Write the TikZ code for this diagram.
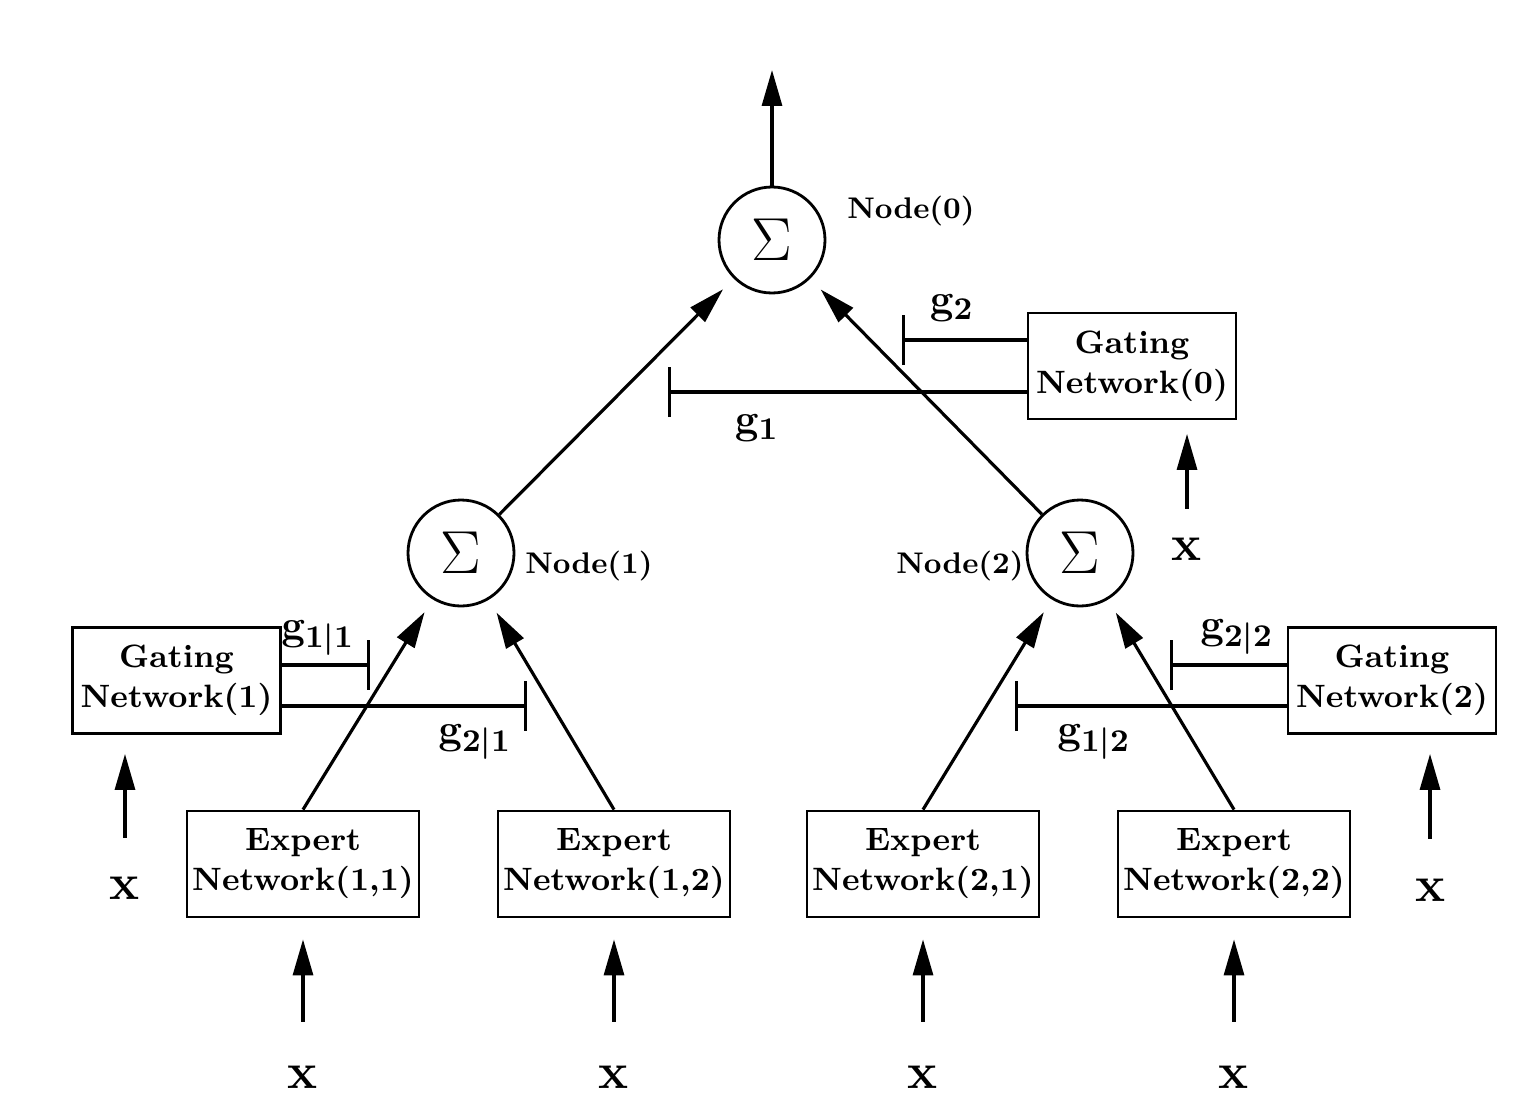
\documentclass[tikz,border=0pt]{standalone}
\usepackage{amsmath,amssymb}
\usetikzlibrary{arrows.meta,positioning}
\tikzset{
  flow/.style={-{Triangle[length=3.6mm,width=2mm]}, line width=0.9pt},
  gate/.style={-{Bar[width=5mm]}, line width=0.9pt},
  sumn/.style={draw, circle, line width=0.8pt, minimum size=1.06cm, inner sep=0pt,
               font=\fontsize{17}{19}\selectfont},
  netbox/.style={draw, line width=0.8pt, minimum width=2.32cm, minimum height=1.06cm,
                 inner xsep=1pt, align=center, font=\fontsize{9.2}{11.4}\selectfont\bfseries},
  gbox/.style={netbox, minimum width=2.08cm},
  nlab/.style={font=\fontsize{8.5}{10}\selectfont\bfseries},
  glab/.style={font=\fontsize{12.5}{14}\selectfont\boldmath},
  xin/.style={font=\fontsize{14.5}{16}\selectfont, inner sep=1pt},
}
\begin{document}
\begin{tikzpicture}
  \useasboundingbox (0,0) rectangle (15.19,11.16);
  % summing nodes
  \node[sumn] (n0) at (7.72,8.76) {$\Sigma$};
  \node[sumn] (n1) at (4.61,5.63) {$\Sigma$};
  \node[sumn] (n2) at (10.80,5.63) {$\Sigma$};
  \node[nlab] (l0) at (9.11,9.05) {Node(0)};
  \node[nlab] (l1) at (5.89,5.50) {Node(1)};
  \node[nlab] (l2) at (9.60,5.50) {Node(2)};
  \coordinate (top) at (7.72,10.46);
  \draw[flow] (n0) -- (top);
  % experts
  \node[netbox] (e11) at (3.03,2.52) {Expert\\Network(1,1)};
  \node[netbox] (e12) at (6.14,2.52) {Expert\\Network(1,2)};
  \node[netbox] (e21) at (9.23,2.52) {Expert\\Network(2,1)};
  \node[netbox] (e22) at (12.34,2.52) {Expert\\Network(2,2)};
  \foreach \e in {11,12,21,22} {
    \node[xin] (x\e) at (e\e |- 0,0.39) {$\mathbf{x}$};
    \draw[flow, shorten <=4mm, shorten >=2.1mm] (x\e) -- (e\e);
  }
  \draw[flow, shorten >=1.5mm] (e11.north) -- (n1);
  \draw[flow, shorten >=1.5mm] (e12.north) -- (n1);
  \draw[flow, shorten >=1.5mm] (e21.north) -- (n2);
  \draw[flow, shorten >=1.5mm] (e22.north) -- (n2);
  \draw[flow, shorten >=1.5mm] (n1) -- (n0);
  \draw[flow, shorten >=1.5mm] (n2) -- (n0);
  % gating networks
  \node[gbox] (gn0) at (11.32,7.50) {Gating\\Network(0)};
  \node[gbox] (gn1) at (1.765,4.355) {Gating\\Network(1)};
  \node[gbox] (gn2) at (13.92,4.355) {Gating\\Network(2)};
  \node[xin] (xg0) at (11.87,5.67) {$\mathbf{x}$};
  \node[xin] (xg1) at (1.25,2.28) {$\mathbf{x}$};
  \node[xin] (xg2) at (14.30,2.26) {$\mathbf{x}$};
  \draw[flow, shorten <=2.5mm, shorten >=1.35mm] (xg0) -- (xg0 |- gn0.south);
  \draw[flow, shorten <=3.5mm, shorten >=1.9mm] (xg1) -- (xg1 |- gn1.south);
  \draw[flow, shorten <=3.6mm, shorten >=1.9mm] (xg2) -- (xg2 |- gn2.south);
  \coordinate (b2) at (9.02,7.76);
  \coordinate (b1) at (6.68,7.24);
  \coordinate (b11) at (3.70,4.51);
  \coordinate (b21) at (5.27,4.10);
  \coordinate (b22) at (11.70,4.51);
  \coordinate (b12) at (10.15,4.10);
  \draw[gate] (gn0.west |- b2) -- (b2);
  \draw[gate] (gn0.west |- b1) -- (b1);
  \draw[gate] (gn1.east |- b11) -- (b11);
  \draw[gate] (gn1.east |- b21) -- (b21);
  \draw[gate] (gn2.west |- b22) -- (b22);
  \draw[gate] (gn2.west |- b12) -- (b12);
  \node[glab] (lg2) at (9.52,8.08) {$\mathbf{g}_{2}$};
  \node[glab] (lg1) at (7.57,6.88) {$\mathbf{g}_{1}$};
  \node[glab] (lg11) at (3.18,4.78) {$\mathbf{g}_{1|1}$};
  \node[glab] (lg21) at (4.75,3.74) {$\mathbf{g}_{2|1}$};
  \node[glab] (lg22) at (12.37,4.79) {$\mathbf{g}_{2|2}$};
  \node[glab] (lg12) at (10.94,3.74) {$\mathbf{g}_{1|2}$};
\end{tikzpicture}
\end{document}
